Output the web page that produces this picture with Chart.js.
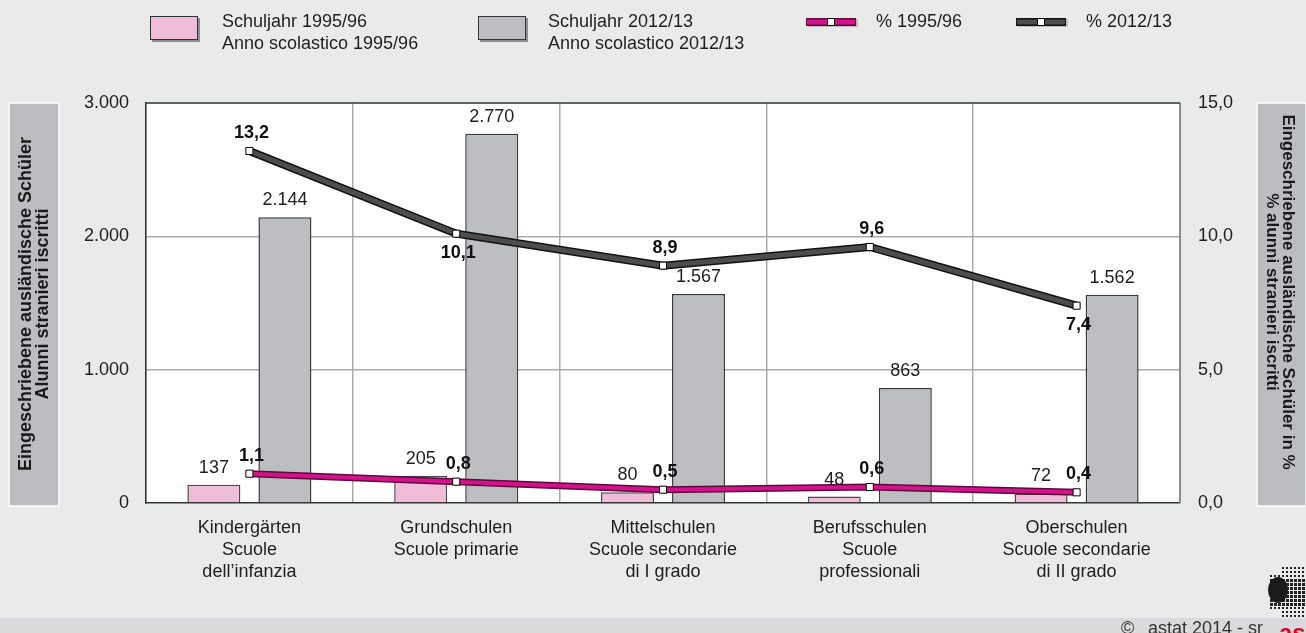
<!DOCTYPE html>
<html>
<head>
<meta charset="utf-8">
<script src="https://cdn.jsdelivr.net/npm/chart.js@4.4.1/dist/chart.umd.min.js"></script>
<style>
  html, body { margin: 0; padding: 0; background: #e9eaea; }
  #wrap { width: 1306px; height: 633px; }
</style>
</head>
<body>
<div id="wrap"><canvas id="chartSchueler" width="1306" height="633"></canvas></div>
<script>
const categories = [
  ["Kindergärten", "Scuole", "dell’infanzia"],
  ["Grundschulen", "Scuole primarie"],
  ["Mittelschulen", "Scuole secondarie", "di I grado"],
  ["Berufsschulen", "Scuole", "professionali"],
  ["Oberschulen", "Scuole secondarie", "di II grado"]
];
const schueler1995 = [137, 205, 80, 48, 72];
const schueler2012 = [2144, 2770, 1567, 863, 1562];
const prozent1995 = [1.1, 0.8, 0.5, 0.6, 0.4];
const prozent2012 = [13.2, 10.1, 8.9, 9.6, 7.4];
const leftTicks = [0, 1000, 2000, 3000];
const rightTicks = [0, 5, 10, 15];

const FONT = '"Liberation Sans", Arial, sans-serif';
Chart.defaults.font.family = FONT;
Chart.defaults.font.size = 18;
Chart.defaults.color = "#1e1e1e";

const fmtInt = (v) => String(v).replace(/\B(?=(\d{3})+(?!\d))/g, ".");
const fmtDec = (v) => v.toFixed(1).replace(".", ",");

// background, plot area, title boxes
const background = {
  id: "background",
  beforeDraw(chart) {
    const { ctx, chartArea: a } = chart;
    ctx.save();
    ctx.fillStyle = "#e9eaea";
    ctx.fillRect(0, 0, chart.width, chart.height);
    ctx.fillStyle = "#d9dadb";
    ctx.fillRect(0, 618, chart.width, chart.height - 618);
    ctx.fillStyle = "#ffffff";
    ctx.fillRect(a.left, a.top, a.right - a.left, a.bottom - a.top);

    // axis title boxes
    ctx.fillStyle = "#bcbdc0";
    ctx.strokeStyle = "#ffffff";
    ctx.lineWidth = 1.5;
    ctx.fillRect(9, 103, 50, 403);
    ctx.strokeRect(9, 103, 50, 403);
    ctx.fillRect(1257, 103, 49, 403);
    ctx.strokeRect(1257, 103, 49, 403);

    ctx.fillStyle = "#1a1a1a";
    ctx.textAlign = "center";
    ctx.textBaseline = "middle";
    ctx.font = "bold 18px " + FONT;
    ctx.save();
    ctx.translate(35, 304);
    ctx.rotate(-Math.PI / 2);
    ctx.fillText("Eingeschriebene ausländische Schüler", 0, -8.5);
    ctx.fillText("Alunni stranieri iscritti", 0, 8.5);
    ctx.restore();
    ctx.save();
    ctx.font = "bold 17px " + FONT;
    ctx.translate(1280, 292);
    ctx.rotate(Math.PI / 2);
    ctx.fillText("Eingeschriebene ausländische Schüler in %", 0, -8);
    ctx.fillText("% alunni stranieri iscritti", 0, 8);
    ctx.restore();
    ctx.restore();
  },
  beforeDatasetsDraw(chart) {
    const { ctx, chartArea: a } = chart;
    ctx.save();
    ctx.strokeStyle = "#8a8a8a";
    ctx.lineWidth = 2;
    ctx.beginPath();
    ctx.moveTo(a.right, a.top);
    ctx.lineTo(a.right, a.bottom);
    ctx.stroke();
    ctx.strokeStyle = "#333";
    ctx.lineWidth = 1.5;
    ctx.beginPath();
    ctx.moveTo(a.left, a.top);
    ctx.lineTo(a.right, a.top);
    ctx.stroke();
    ctx.restore();
  }
};

// dark outline under the line datasets
const lineOutline = {
  id: "lineOutline",
  beforeDatasetDraw(chart, args) {
    const ds = chart.data.datasets[args.index];
    if (ds.type !== "line") return;
    const pts = args.meta.data;
    const ctx = chart.ctx;
    ctx.save();
    ctx.strokeStyle = ds.outlineColor;
    ctx.lineWidth = ds.outlineWidth;
    ctx.beginPath();
    pts.forEach((p, i) => (i ? ctx.lineTo(p.x, p.y) : ctx.moveTo(p.x, p.y)));
    ctx.stroke();
    ctx.restore();
  }
};

const valueLabels = {
  id: "valueLabels",
  afterDatasetsDraw(chart) {
    const ctx = chart.ctx;
    ctx.save();
    ctx.textAlign = "center";
    chart.data.datasets.forEach((ds, i) => {
      const meta = chart.getDatasetMeta(i);
      meta.data.forEach((el, j) => {
        const v = ds.data[j];
        if (ds.type === "bar") {
          ctx.font = "18px " + FONT;
          ctx.fillStyle = "#1e1e1e";
          ctx.textBaseline = "bottom";
          ctx.fillText(fmtInt(v), el.x, el.y - 8);
        } else {
          const below = ds.labelBelow && ds.labelBelow[j];
          ctx.font = "bold 18px " + FONT;
          ctx.fillStyle = "#111";
          ctx.textBaseline = "middle";
          ctx.fillText(fmtDec(v), el.x + 2, below ? el.y + 19 : el.y - 18);
        }
      });
    });
    ctx.restore();
  }
};

const legendBox = {
  id: "legendBox",
  afterDraw(chart) {
    const ctx = chart.ctx;
    const spots = [{ x: 150, y: 16, tx: 222 }, { x: 478, y: 16, tx: 548 }, { x: 806, y: 22, tx: 876 }, { x: 1016, y: 22, tx: 1086 }];
    ctx.save();
    chart.data.datasets.forEach((ds, i) => {
      const s = spots[i];
      if (ds.type === "bar") {
        ctx.fillStyle = "#8f8f8f";
        ctx.fillRect(s.x + 2, s.y + 2, 48, 24);
        ctx.fillStyle = ds.backgroundColor;
        ctx.fillRect(s.x, s.y, 48, 24);
        ctx.strokeStyle = "#333";
        ctx.lineWidth = 1;
        ctx.strokeRect(s.x + 0.5, s.y + 0.5, 47, 23);
      } else {
        ctx.fillStyle = "#bdbdbd";
        ctx.fillRect(s.x + 2, s.y - 3, 50, 8);
        ctx.fillStyle = ds.outlineColor;
        ctx.fillRect(s.x, s.y - 4, 50, 8);
        ctx.fillStyle = ds.borderColor;
        ctx.fillRect(s.x + 1, s.y - 2.5, 48, 5);
        ctx.fillStyle = "#fff";
        ctx.strokeStyle = "#000";
        ctx.fillRect(s.x + 21.5, s.y - 3.5, 7, 7);
        ctx.strokeRect(s.x + 21.5, s.y - 3.5, 7, 7);
      }
      ctx.fillStyle = "#1e1e1e";
      ctx.font = "18px " + FONT;
      ctx.textAlign = "left";
      ctx.textBaseline = "middle";
      const lines = ds.label.split("\n");
      lines.forEach((t, k) => ctx.fillText(t, s.tx, 22 + k * 22));
    });

    // footer
    ctx.fillStyle = "#333";
    ctx.font = "18px " + FONT;
    ctx.textBaseline = "alphabetic";
    ctx.fillText("©", 1121, 634);
    ctx.fillText("astat 2014 - sr", 1148, 634);

    // logo: dot pattern with silhouette
    ctx.fillStyle = "#222";
    for (let y = 567; y < 616; y += 4) {
      for (let x = 1270; x < 1306; x += 4) {
        const edge = (y < 575 || y > 608) && x < 1282;
        if (edge) continue;
        const d = (y > 578 && y < 606) ? 3 : 2;
        ctx.fillRect(x, y, d, d);
      }
    }
    ctx.fillStyle = "#1a1a1a";
    ctx.beginPath();
    ctx.ellipse(1278, 590, 10, 13, 0, 0, Math.PI * 2);
    ctx.fill();
    ctx.fillStyle = "#e2001a";
    ctx.font = "bold 24px " + FONT;
    ctx.fillText("astat", 1279, 641);
    ctx.restore();
  }
};

new Chart(document.getElementById("chartSchueler"), {
  data: {
    labels: categories,
    datasets: [
      {
        type: "bar",
        label: "Schuljahr 1995/96\nAnno scolastico 1995/96",
        data: schueler1995,
        yAxisID: "y",
        backgroundColor: "#f0bdd9",
        borderColor: "#4a4a4a",
        borderWidth: 1.5,
        categoryPercentage: 0.687,
        barPercentage: 0.746,
        order: 2
      },
      {
        type: "bar",
        label: "Schuljahr 2012/13\nAnno scolastico 2012/13",
        data: schueler2012,
        yAxisID: "y",
        backgroundColor: "#bdbec2",
        borderColor: "#3a3a3a",
        borderWidth: 1.5,
        categoryPercentage: 0.687,
        barPercentage: 0.746,
        order: 2
      },
      {
        type: "line",
        label: "% 1995/96",
        data: prozent1995,
        yAxisID: "y1",
        borderColor: "#d3128b",
        borderWidth: 4,
        outlineColor: "#5c0a3c",
        outlineWidth: 7,
        tension: 0,
        pointStyle: "rect",
        pointRadius: 5,
        pointBackgroundColor: "#fff",
        pointBorderColor: "#000",
        pointBorderWidth: 1,
        labelBelow: [false, false, false, false, false],
        order: 1
      },
      {
        type: "line",
        label: "% 2012/13",
        data: prozent2012,
        yAxisID: "y1",
        borderColor: "#4d4d4d",
        borderWidth: 5,
        outlineColor: "#111",
        outlineWidth: 8,
        tension: 0,
        pointStyle: "rect",
        pointRadius: 5,
        pointBackgroundColor: "#fff",
        pointBorderColor: "#000",
        pointBorderWidth: 1,
        labelBelow: [false, true, false, false, true],
        order: 0
      }
    ]
  },
  options: {
    responsive: false,
    animation: false,
    devicePixelRatio: 1,
    layout: { padding: { top: 103, left: 0, right: 0, bottom: 0 } },
    plugins: {
      legend: { display: false },
      tooltip: { enabled: false }
    },
    scales: {
      x: {
        offset: true,
        grid: { offset: true, color: "#ababab", lineWidth: 1.5, drawTicks: false },
        border: { display: true, color: "#333", width: 1.5 },
        ticks: { padding: 14, font: { size: 18, lineHeight: 22 / 18 }, color: "#1e1e1e", maxRotation: 0, autoSkip: false },
        afterFit: (s) => { s.height = 130; }
      },
      y: {
        position: "left",
        min: 0,
        max: 3000,
        afterBuildTicks: (s) => { s.ticks = leftTicks.map((v) => ({ value: v })); },
        grid: {
          drawTicks: false,
          lineWidth: 1.5,
          color: (c) => (c.tick && c.tick.value > 0 && c.tick.value < 3000 ? "#ababab" : "rgba(0,0,0,0)")
        },
        border: { display: true, color: "#333", width: 1.5 },
        ticks: { padding: 17, color: "#1e1e1e", font: { size: 18 }, callback: (v) => fmtInt(v) },
        afterFit: (s) => { s.width = 146; }
      },
      y1: {
        position: "right",
        min: 0,
        max: 15,
        afterBuildTicks: (s) => { s.ticks = rightTicks.map((v) => ({ value: v })); },
        grid: { display: false, drawTicks: false },
        border: { display: false },
        ticks: { padding: 18, color: "#1e1e1e", font: { size: 18 }, callback: (v) => fmtDec(v) },
        afterFit: (s) => { s.width = 126; }
      }
    }
  },
  plugins: [background, lineOutline, valueLabels, legendBox]
});
</script>
</body>
</html>
